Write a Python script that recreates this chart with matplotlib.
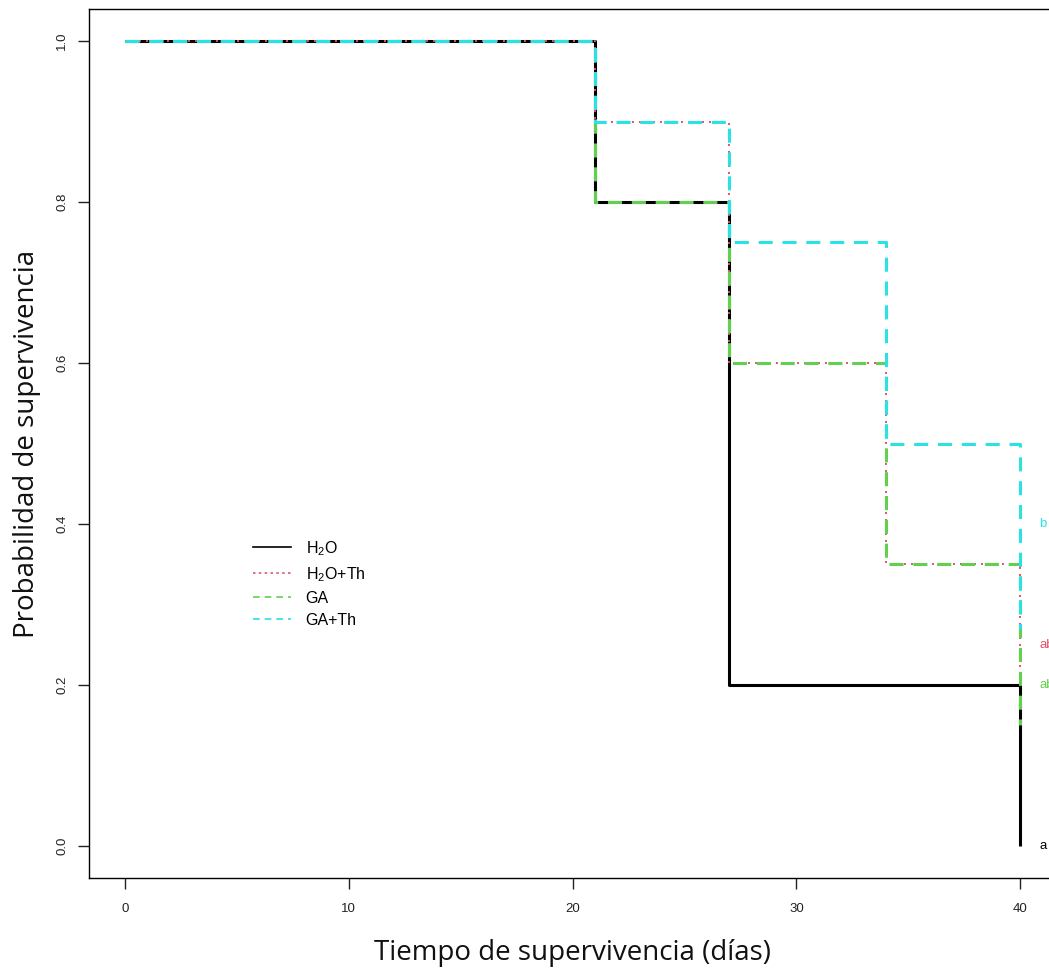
import matplotlib
matplotlib.use("Agg")
import matplotlib.pyplot as plt
from matplotlib.lines import Line2D

plt.rcParams["mathtext.fontset"] = "custom"
plt.rcParams["mathtext.rm"] = "Liberation Sans"
plt.rcParams["mathtext.it"] = "Liberation Sans:italic"

# Kaplan-Meier estimates per treatment (step changes at each event time)
times = [0, 21, 27, 34, 40]
surv_h2o = [1.0, 0.8, 0.2, 0.2, 0.0]
surv_h2o_th = [1.0, 0.9, 0.6, 0.35, 0.2]
surv_ga = [1.0, 0.8, 0.6, 0.35, 0.15]
surv_ga_th = [1.0, 0.9, 0.75, 0.5, 0.27]

groups = ["H$_2$O", "H$_2$O+Th", "GA", "GA+Th"]
letters = ["a", "ab", "ab", "b"]
letter_y = [0.0, 0.25, 0.2, 0.4]

colors = ["black", "#DF536B", "#61D04F", "#28E2E5"]
dash_styles = ["-", (0, (1.0, 2.6)), (0, (4.6, 3.2)), (0, (4.6, 3.2))]
widths = [2.2, 1.4, 2.2, 2.2]

fig = plt.figure(figsize=(10.49, 9.69), dpi=100)
# right edge of the box falls just past the image border
ax = fig.add_axes([89 / 1049, 91 / 969, 967 / 1049, 869 / 969])

for surv, col, ls, lw in zip(
    [surv_h2o, surv_h2o_th, surv_ga, surv_ga_th], colors, dash_styles, widths
):
    ax.plot(
        times + [times[-1]],
        [surv[0]] + surv,
        drawstyle="steps-pre",
        color=col,
        linestyle=ls,
        linewidth=lw,
        solid_capstyle="butt",
        dash_capstyle="butt",
    )

for txt, y, col in zip(letters, letter_y, colors):
    ax.text(40.85, y, txt, color=col, fontsize=9.5, family="Liberation Sans",
            ha="left", va="center", clip_on=False)

ax.set_xlim(-1.6, 41.6)
ax.set_ylim(-0.04, 1.04)
ax.set_xticks([0, 10, 20, 30, 40])
ax.set_yticks([0.0, 0.2, 0.4, 0.6, 0.8, 1.0])
ax.set_yticklabels(["0.0", "0.2", "0.4", "0.6", "0.8", "1.0"], rotation=90,
                   va="center")
ax.tick_params(axis="both", direction="out", length=8, width=1.0,
               labelsize=9.5, colors="#222222")
ax.tick_params(axis="x", pad=10)
ax.tick_params(axis="y", pad=7)
for lbl in ax.get_xticklabels() + ax.get_yticklabels():
    lbl.set_family("Liberation Sans")
for sp in ax.spines.values():
    sp.set_linewidth(1.0)

ax.set_xlabel("Tiempo de supervivencia (días)", fontsize=20, family="Open Sans",
              color="#111111")
ax.xaxis.set_label_coords(0.5, -0.07)
ax.set_ylabel("Probabilidad de supervivencia", fontsize=20, family="Open Sans",
              color="#111111")
ax.yaxis.set_label_coords(-0.05, 0.5)

handles = [
    Line2D([], [], color=c, linestyle=s, linewidth=1.2)
    for c, s in zip(colors, ["-", (0, (1.5, 2.0)), (0, (4, 3)), (0, (4, 3))])
]
leg = ax.legend(
    handles,
    groups,
    loc="upper left",
    bbox_to_anchor=(0.1696, 0.39),
    frameon=False,
    borderpad=0,
    borderaxespad=0,
    handlelength=2.4,
    handletextpad=0.9,
    labelspacing=0.45,
    prop={"family": "Liberation Sans", "size": 11.5},
)

fig.savefig("out.png", dpi=100)
